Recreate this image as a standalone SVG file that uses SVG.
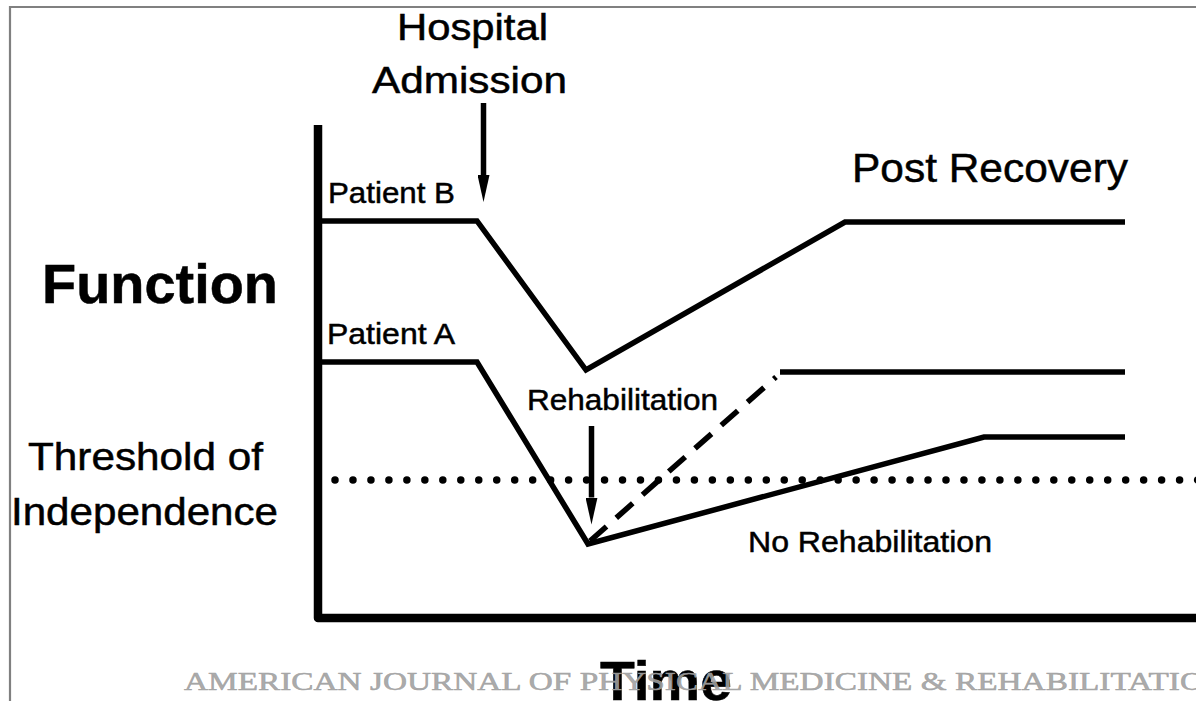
<svg xmlns="http://www.w3.org/2000/svg" width="1196" height="701" viewBox="0 0 1196 701">
  <style>
    .lbl { font-family: "Liberation Sans", Arial, sans-serif; fill: #000; stroke: #000; stroke-width: 0.5; }
    .bold { font-weight: bold; }
    .line { fill: none; stroke: #000; stroke-width: 5.5; stroke-linejoin: miter; }
    .axis { fill: none; stroke: #000; stroke-width: 8.5; stroke-linejoin: round; }
    .dash { stroke-dasharray: 22 13; }
    .dots { fill: none; stroke: #000; stroke-width: 7.5; stroke-linecap: round; stroke-dasharray: 0 17.97; }
    .arrow { fill: none; stroke: #000; stroke-width: 5.5; }
    .wm { font-family: "Liberation Serif", "Times New Roman", serif; fill: #a0a0a0; fill-opacity: 0.9; stroke: #a0a0a0; stroke-width: 0.6; stroke-opacity: 0.9; }
  </style>
  <defs>
    <marker id="head" viewBox="0 0 27 12" refX="0" refY="6" markerWidth="27" markerHeight="12" markerUnits="userSpaceOnUse" orient="auto">
      <path d="M0,0 L27,6 L0,12 Z" fill="#000"/>
    </marker>
  </defs>
  <rect x="0" y="0" width="1196" height="701" fill="#fff"/>
  <g id="frame">
    <path d="M10,710 V7 H1200" fill="none" stroke="#808080" stroke-width="2.2"/>
  </g>
  <g id="axes">
    <path class="axis" d="M318,125 V618 H1200"/>
  </g>
  <g id="connectors">
    <path id="patient-b-curve" class="line" d="M322,221 H477 L586,370 L845,222 H1125"/>
    <path id="patient-a-curve" class="line" d="M322,362 H477 L588,544 L984,437 H1125"/>
    <path id="rehab-curve" class="line dash" d="M590,541 L776,377"/>
    <path id="rehab-plateau" class="line" d="M780,372 H1125"/>
    <path id="threshold" class="dots" d="M335,480 H1200"/>
    <path id="admission-arrow" class="arrow" d="M483.5,103 V175" marker-end="url(#head)"/>
    <path id="rehab-arrow" class="arrow" d="M591.5,426 V497.5" marker-end="url(#head)"/>
  </g>
  <g id="hospital-admission">
    <text class="lbl" x="397" y="40" font-size="37" textLength="151" lengthAdjust="spacingAndGlyphs">Hospital</text>
    <text class="lbl" x="372" y="93" font-size="37" textLength="195" lengthAdjust="spacingAndGlyphs">Admission</text>
  </g>
  <g id="patient-b">
    <text class="lbl" x="328" y="203" font-size="30" textLength="127" lengthAdjust="spacingAndGlyphs">Patient B</text>
  </g>
  <g id="patient-a">
    <text class="lbl" x="327" y="344" font-size="30" textLength="128" lengthAdjust="spacingAndGlyphs">Patient A</text>
  </g>
  <g id="function">
    <text class="lbl bold" x="42" y="303" font-size="56" textLength="236" lengthAdjust="spacingAndGlyphs">Function</text>
  </g>
  <g id="threshold-label">
    <text class="lbl" x="28" y="470" font-size="39" textLength="235" lengthAdjust="spacingAndGlyphs">Threshold of</text>
    <text class="lbl" x="11" y="525" font-size="38" textLength="267" lengthAdjust="spacingAndGlyphs">Independence</text>
  </g>
  <g id="post-recovery">
    <text class="lbl" x="852" y="182" font-size="41" textLength="276" lengthAdjust="spacingAndGlyphs">Post Recovery</text>
  </g>
  <g id="rehabilitation">
    <text class="lbl" x="527" y="410" font-size="30" textLength="191" lengthAdjust="spacingAndGlyphs">Rehabilitation</text>
  </g>
  <g id="no-rehabilitation">
    <text class="lbl" x="748" y="552" font-size="30" textLength="244" lengthAdjust="spacingAndGlyphs">No Rehabilitation</text>
  </g>
  <g id="time">
    <text class="lbl bold" x="600" y="700" font-size="56" textLength="132" lengthAdjust="spacingAndGlyphs">Time</text>
  </g>
  <g id="watermark">
    <text class="wm" x="184" y="690" font-size="26" textLength="1044" lengthAdjust="spacingAndGlyphs">AMERICAN JOURNAL OF PHYSICAL MEDICINE &amp; REHABILITATION</text>
  </g>
</svg>
